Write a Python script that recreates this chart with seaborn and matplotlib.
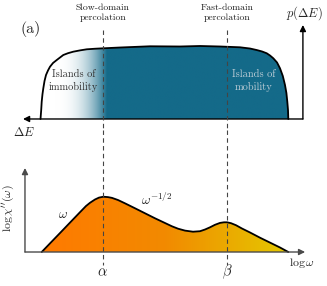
import numpy as np
import matplotlib
matplotlib.use("Agg")
import matplotlib.pyplot as plt
import seaborn as sns
from matplotlib.colors import LinearSegmentedColormap, to_rgb

# schematic control points (x: shared ΔE / log ω axis, arbitrary units)
dist_x = [0.743, 0.768, 0.786, 0.815, 0.844, 0.888, 0.942, 1.014, 1.087, 1.196, 1.330,
          1.449, 1.569, 1.739, 1.931, 2.174, 2.417, 2.717, 3.018, 3.623, 4.710, 5.797,
          6.522, 7.246, 7.971, 8.333, 8.576, 8.768, 8.938, 9.058, 9.178, 9.312, 9.420,
          9.522, 9.601, 9.652, 9.685, 9.710, 9.721]
dist_y = [0.0, 0.125, 0.240, 0.347, 0.426, 0.528, 0.611, 0.674, 0.726, 0.778, 0.819,
          0.854, 0.889, 0.914, 0.935, 0.953, 0.968, 0.976, 0.982, 0.993, 1.010, 1.007,
          1.014, 1.007, 0.996, 0.979, 0.958, 0.938, 0.913, 0.882, 0.843, 0.785, 0.704,
          0.597, 0.472, 0.361, 0.240, 0.125, 0.0]

spec_x = [0.786, 1.087, 1.449, 1.812, 2.174, 2.391, 2.536, 2.717, 2.862, 3.018, 3.188,
          3.333, 3.551, 3.804, 4.167, 4.529, 4.891, 5.254, 5.507, 5.725, 5.978, 6.268,
          6.522, 6.703, 6.884, 7.065, 7.246, 7.391, 7.500, 7.645, 7.826, 8.043, 8.333,
          8.696, 9.058, 9.420, 9.721]
spec_y = [0.0, 0.157, 0.345, 0.535, 0.724, 0.836, 0.895, 0.955, 0.989, 1.005, 0.998,
          0.984, 0.945, 0.885, 0.795, 0.704, 0.613, 0.527, 0.467, 0.424, 0.389, 0.369,
          0.378, 0.409, 0.449, 0.495, 0.529, 0.540, 0.540, 0.524, 0.487, 0.427, 0.355,
          0.260, 0.171, 0.082, 0.0]

alpha_pos = 3.0
beta_pos = 7.5

teal = "#146a89"
orange_left = "#ff7a00"
orange_mid = "#f28a00"
yellow_right = "#e4c900"

sns.set_style("white")
plt.rcParams["font.family"] = ["cmr10", "DejaVu Serif"]
plt.rcParams["mathtext.fontset"] = "cm"
plt.rcParams["axes.unicode_minus"] = False

fig = plt.figure(figsize=(3.27, 2.86), dpi=100)
xlim = (-0.725, 11.123)
ax1 = fig.add_axes([0, 156 / 286, 1, 130 / 286])
ax2 = fig.add_axes([0, 0, 1, 156 / 286])
for ax in (ax1, ax2):
    ax.set_xlim(*xlim)
    ax.axis("off")
    ax.patch.set_alpha(0)
ax1.set_ylim(-0.153, 1.653)
ax2.set_ylim(-0.618, 2.218)

# ---- top panel: distribution of energy barriers ----
cols = np.linspace(xlim[0], xlim[1], 800)
t = np.clip((cols - 1.3) / (3.15 - 1.3), 0, 1) ** 2.4
white = np.array([1.0, 1.0, 1.0])
tc = np.array(to_rgb(teal))
img = white[None, :] * (1 - t[:, None]) + tc[None, :] * t[:, None]
img = np.repeat(img[None, :, :], 2, axis=0)
poly = ax1.fill_between(dist_x, 0, dist_y, color="none", lw=0)
im = ax1.imshow(img, extent=[xlim[0], xlim[1], 0, 1.1], aspect="auto", origin="lower",
                zorder=1, interpolation="bilinear")
im.set_clip_path(poly.get_paths()[0], transform=ax1.transData)
sns.lineplot(x=dist_x, y=dist_y, ax=ax1, color="black", lw=1.3, sort=False, zorder=3)

arrow_kw = dict(arrowstyle="-|>", lw=1.0, mutation_scale=9, shrinkA=0, shrinkB=0)
ax1.annotate("", xy=(0.109, 0), xytext=(10.25, 0),
             arrowprops=dict(color="black", **arrow_kw), zorder=4)
ax1.annotate("", xy=(10.25, 1.306), xytext=(10.25, 0),
             arrowprops=dict(color="black", **arrow_kw), zorder=4)

for xp in (alpha_pos, beta_pos):
    ax1.plot([xp, xp], [1.236, -0.153], color="#444444", lw=0.8, ls=(0, (4, 3)),
             zorder=5, clip_on=False)

ax1.text(alpha_pos, 1.472, "Slow-domain\npercolation", ha="center", va="center",
         fontsize=7, color="#222222", linespacing=1.2)
ax1.text(beta_pos, 1.472, "Fast-domain\npercolation", ha="center", va="center",
         fontsize=7, color="#222222", linespacing=1.2)
ax1.text(0.40, 1.25, "(a)", ha="center", va="center", fontsize=11.5)
ax1.text(10.29, 1.47, r"$p(\Delta E)$", ha="center", va="center", fontsize=9)
ax1.text(0.145, -0.19, r"$\Delta E$", ha="center", va="center", fontsize=9)
ax1.text(1.94, 0.528, "Islands of\nimmobility", ha="center", va="center", fontsize=7.5,
         color="#333333", linespacing=1.35, zorder=6)
ax1.text(8.45, 0.528, "Islands of\nmobility", ha="center", va="center", fontsize=7.5,
         color="#bccdd6", linespacing=1.35, zorder=6)

# ---- bottom panel: susceptibility spectrum ----
cmap = LinearSegmentedColormap.from_list("oy", [orange_left, orange_mid, yellow_right])
grad = np.repeat(np.linspace(0, 1, 800)[None, :], 2, axis=0)
poly2 = ax2.fill_between(spec_x, 0, spec_y, color="none", lw=0)
im2 = ax2.imshow(grad, extent=[spec_x[0], spec_x[-1], 0, 1.1], aspect="auto",
                 origin="lower", cmap=cmap, zorder=1, interpolation="bilinear")
im2.set_clip_path(poly2.get_paths()[0], transform=ax2.transData)
sns.lineplot(x=spec_x, y=spec_y, ax=ax2, color="black", lw=1.3, sort=False, zorder=3)

ax2.annotate("", xy=(10.33, 0), xytext=(0.18, 0),
             arrowprops=dict(color="#4a4a4a", **arrow_kw), zorder=4)
ax2.annotate("", xy=(0.18, 1.527), xytext=(0.18, 0),
             arrowprops=dict(color="#4a4a4a", **arrow_kw), zorder=4)

for xp in (alpha_pos, beta_pos):
    ax2.plot([xp, xp], [2.218, -0.236], color="#444444", lw=0.8, ls=(0, (4, 3)),
             zorder=5, clip_on=False)

ax2.text(1.56, 0.67, r"$\omega$", ha="center", va="center", fontsize=9.5)
ax2.text(4.96, 0.96, r"$\omega^{-1/2}$", ha="center", va="center", fontsize=9.5)
ax2.text(-0.435, 0.8, r"$\log\chi''(\omega)$", ha="center", va="center", fontsize=8.5,
         rotation=90)
ax2.text(10.22, -0.2, r"$\log\omega$", ha="center", va="center", fontsize=8.5)
ax2.text(alpha_pos, -0.38, r"$\alpha$", ha="center", va="center", fontsize=10.5)
ax2.text(beta_pos, -0.36, r"$\beta$", ha="center", va="center", fontsize=10.5)

fig.savefig("out.png", dpi=100)
